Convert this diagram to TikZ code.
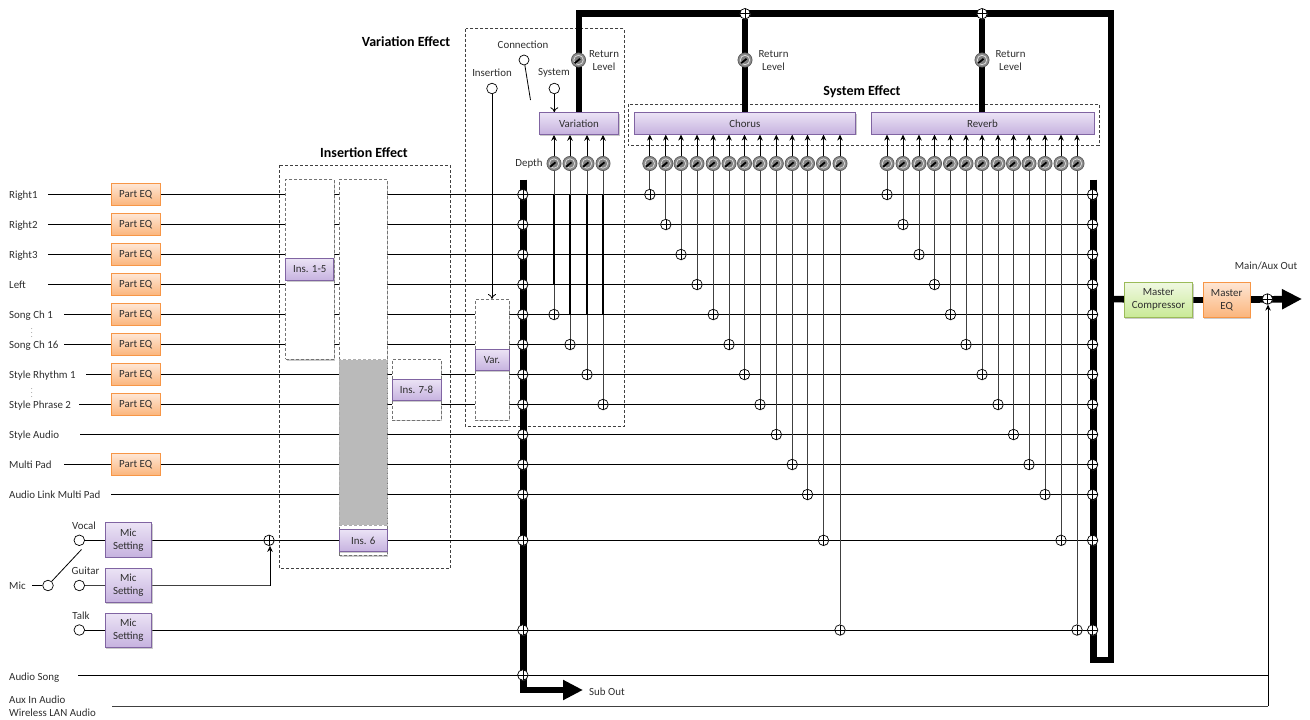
\documentclass[tikz,border=0pt]{standalone}
\usepackage{fontspec}
\setmainfont{Carlito}
\usetikzlibrary{arrows.meta,shadows,calc}
\definecolor{txt}{HTML}{2E2E2E}
\definecolor{pborder}{HTML}{8064A2}
\definecolor{ptop}{HTML}{EBE3F5}
\definecolor{pbot}{HTML}{C6B2DF}
\definecolor{oborder}{HTML}{F79646}
\definecolor{otop}{HTML}{FEE6D4}
\definecolor{obot}{HTML}{FBB57C}
\definecolor{gborder}{HTML}{9BBB59}
\definecolor{gtop}{HTML}{F0F8E2}
\definecolor{gbot}{HTML}{C9EA96}
\pgfdeclarelayer{lines}
\pgfdeclarelayer{boxes}
\pgfdeclarelayer{buses}
\pgfsetlayers{lines,boxes,buses,main}
\tikzset{
  lab/.style={font=\fontsize{10.9}{13}\selectfont,text=txt,inner sep=0pt,align=center},
  lableft/.style={lab,anchor=west,yshift=-.7pt},
  title/.style={font=\fontsize{14}{16}\selectfont\bfseries,text=black,inner sep=0pt},
  softshadow/.style={drop shadow={shadow xshift=1pt,shadow yshift=-1.2pt,fill=black!45,opacity=.45}},
  basebox/.style={lab,rectangle,inner sep=0pt,line width=.9pt,softshadow},
  purplebox/.style={basebox,draw=pborder,top color=ptop,bottom color=pbot},
  orangebox/.style={basebox,draw=oborder,top color=otop,bottom color=obot},
  greenbox/.style={basebox,draw=gborder,top color=gtop,bottom color=gbot},
  parteq/.style={orangebox,minimum width=48.5pt,minimum height=21.5pt},
  micbox/.style={purplebox,minimum width=46.5pt,minimum height=34.5pt},
  frame/.style={draw=black!75,dashed,dash pattern=on 3pt off 2pt,line width=.7pt,inner sep=0pt},
  column/.style={draw=black!55,dash pattern=on 3pt off 2pt,line width=.9pt,fill=white,inner sep=0pt,softshadow},
  wire/.style={draw=black,line width=.8pt},
  vwire/.style={draw=black!75,line width=.8pt},
  stub/.style={draw=black,line width=1.4pt},
  bus/.style={draw=black,line width=6.6pt,line join=miter},
  bigarrow/.style={bus,-{Triangle[length=20pt,width=19pt]}},
  tip/.style={-{Stealth[length=6pt,width=5.5pt]}},
  opentip/.style={-{To[length=5pt,width=8pt]}},
  port/.style={circle,draw=black,fill=white,line width=.7pt,minimum size=10.6pt,inner sep=0pt},
  sumn/.style={circle,draw=black,fill=white,line width=.7pt,minimum size=10.5pt,inner sep=0pt,
    drop shadow={shadow xshift=.5pt,shadow yshift=-.8pt,fill=black!40,opacity=.35},
    path picture={
      \draw[line width=.6pt] (path picture bounding box.north)--(path picture bounding box.south);
      \draw[line width=.6pt] (path picture bounding box.west)--(path picture bounding box.east);}},
  knob/.style={circle,draw=black!65,fill=black!45,line width=.7pt,minimum size=14.2pt,inner sep=0pt,
    path picture={
      \draw[white!85!black,line width=.8pt,fill=black!50] (path picture bounding box.center) circle (4.7pt);
      \draw[black,line width=1.8pt] ($(path picture bounding box.center)+(1.5pt,1.2pt)$)--($(path picture bounding box.center)+(-3.8pt,-3.2pt)$);}},
}
\begin{document}
\begin{tikzpicture}[x=1pt,y=-1pt]
\useasboundingbox (0,0) rectangle (1310,720);

% --- source labels and row ends
\foreach \n/\y/\t/\s in {1/194.5/Right1/48,2/224.5/Right2/48,3/254.5/Right3/48,4/284.5/Left/48,
  5/314.5/Song Ch 1/64,6/344.5/Song Ch 16/64,7/374.5/Style Rhythm 1/86,8/404.5/Style Phrase 2/79,
  9/434.5/Style Audio/80,10/464.5/Multi Pad/64,11/494.5/Audio Link Multi Pad/111}{
  \node[lableft] (lab\n) at (9,\y) {\t};
  \coordinate (src\n) at (\s,\y);
  \node[sumn] (sumL\n) at (522.8,\y) {};
  \node[sumn] (sumR\n) at (1092.6,\y) {};
}
\foreach \n/\y in {1/194.5,2/224.5,3/254.5,4/284.5,5/314.5,6/344.5,7/374.5,8/404.5,10/464.5}{
  \node[parteq] (eq\n) at (135.7,\y) {Part EQ};
}
\node[lab] (dots1) at (32,330) {\fontsize{6}{6}\selectfont$\vdots$};
\node[lab] (dots2) at (32,390) {\fontsize{6}{6}\selectfont$\vdots$};

% --- microphones
\node[lableft] (labmic) at (9,585.5) {Mic};
\node[port] (micin) at (48,585.5) {};
\coordinate (micsrc) at (32,585.5);
\coordinate (swA) at (52,581);
\coordinate (swB) at (81.5,549.5);
\node[lab] (labvocal) at (84,525.5) {Vocal};
\node[lab] (labguitar) at (85.5,571) {Guitar};
\node[lab] (labtalk) at (81,616) {Talk};
\node[port] (vocal) at (79.3,540.3) {};
\node[port] (guitar) at (79.3,585.5) {};
\node[port] (talk) at (79.3,630) {};
\node[micbox] (micA) at (128.3,540) {Mic\\Setting};
\node[micbox] (micB) at (128.3,585.5) {Mic\\Setting};
\node[micbox] (micC) at (128.3,630.5) {Mic\\Setting};
\node[sumn] (mixmic) at (269,540.3) {};
\coordinate (guitarcorner) at (270,585.5);

\node[sumn] (sumL12) at (522.8,540.3) {};
\node[sumn] (sumR12) at (1092.6,540.3) {};
\node[sumn] (sumL13) at (522.8,630) {};
\node[sumn] (sumR13) at (1092.6,630) {};
\node[lableft] (labaudio) at (9,677) {Audio Song};
\coordinate (audiosrc) at (78,675);
\node[sumn] (sumL14) at (522.8,675) {};
\node[lableft] (labaux) at (9,699.5) {Aux In Audio};
\node[lableft] (labwlan) at (9,712.5) {Wireless LAN Audio};
\coordinate (auxsrc) at (112,706);
\coordinate (auxcorner) at (1268,706);
\coordinate (audioend) at (1268,675);

% --- effect blocks
\node[title] (titleins) at (364,152.5) {Insertion Effect};
\node[title] (titlevar) at (406,42) {Variation Effect};
\node[title] (titlesys) at (862,91.5) {System Effect};
\node[purplebox,minimum width=48pt,minimum height=22pt] (ins15) at (309.8,269.5) {Ins. 1-5};
\node[purplebox,minimum width=48pt,minimum height=22pt] (ins6) at (363.2,540.5) {Ins. 6};
\node[purplebox,minimum width=49pt,minimum height=21.5pt] (ins78) at (416.5,390) {Ins. 7-8};
\node[purplebox,minimum width=34pt,minimum height=21.5pt] (varshort) at (492,360) {Var.};
\node[purplebox,minimum width=79.4pt,minimum height=21.6pt] (variation) at (579,123.5) {Variation};
\node[purplebox,minimum width=221.7pt,minimum height=21.4pt] (chorus) at (744.85,123.4) {Chorus};
\node[purplebox,minimum width=223pt,minimum height=21.4pt] (reverb) at (982.5,123.4) {Reverb};

% --- variation controls
\node[lab] (labconn) at (523,45) {Connection};
\node[lab] (labinsert) at (492,72.5) {Insertion};
\node[lab] (labsystem) at (554,72.5) {System};
\node[port,minimum size=10pt] (conn) at (524,60) {};
\node[port] (insert) at (492,88.5) {};
\node[port] (system) at (554.3,88.5) {};
\coordinate (connend) at (530.5,100);
\node[lab] (labdepth) at (529,163.5) {Depth};

% --- knobs and mixers
\foreach \i/\x/\y in {1/554/314.5,2/570/344.5,3/587/374.5,4/603/404.5}{
  \node[knob] (kV\i) at (\x,163.5) {};
  \node[sumn] (sV\i) at (\x,\y) {};
}
\foreach \i/\x/\y in {1/649.8/194.5,2/665.8/224.5,3/681/254.5,4/697/284.5,5/713.2/314.5,6/729/344.5,
  7/744.5/374.5,8/760/404.5,9/776.3/434.5,10/792.2/464.5,11/807.5/494.5,12/823.5/540.3,13/840/630}{
  \node[knob] (kC\i) at (\x,163.5) {};
  \node[sumn] (sC\i) at (\x,\y) {};
}
\foreach \i/\x/\y in {1/887/194.5,2/903/224.5,3/919/254.5,4/934.5/284.5,5/950.5/314.5,6/966/344.5,
  7/982/374.5,8/998/404.5,9/1013.5/434.5,10/1029/464.5,11/1045/494.5,12/1061/540.3,13/1077/630}{
  \node[knob] (kR\i) at (\x,163.5) {};
  \node[sumn] (sR\i) at (\x,\y) {};
}

% --- return path
\node[knob] (retV) at (578.5,60) {};
\node[knob] (retC) at (745,60) {};
\node[knob] (retR) at (982,60) {};
\node[sumn] (retCsum) at (745,13.7) {};
\node[sumn] (retRsum) at (982,13.7) {};
\node[lab] (labretV) at (604,60.5) {Return\\Level};
\node[lab] (labretC) at (773.5,60.5) {Return\\Level};
\node[lab] (labretR) at (1010.5,60.5) {Return\\Level};
\coordinate (busRtop) at (1093.2,179.5);
\coordinate (busRbot) at (1093.2,660);
\coordinate (busRout) at (1111,660);
\coordinate (busRtopR) at (1111,13.7);
\coordinate (busRtopL) at (579,13.7);

% --- output
\node[greenbox,minimum width=68.5pt,minimum height=35pt] (comp) at (1158.5,299.8) {Master\\Compressor};
\node[orangebox,minimum width=46.7pt,minimum height=35pt] (meq) at (1226.7,299.8) {Master\\EQ};
\node[sumn] (mainsum) at (1267.4,299) {};
\node[lab] (labmain) at (1266,266) {Main/Aux Out};
\coordinate (mainend) at (1302,299);
\coordinate (mainbus) at (1111,299);
\coordinate (busLtop) at (523.4,179.5);
\coordinate (busLcorner) at (523.4,690);
\coordinate (subend) at (583,690);
\node[lableft] (labsub) at (589,691) {Sub Out};

\begin{pgfonlayer}{lines}
  % dashed frames
  \draw[frame] (279.5,165) rectangle (450,568.5);
  \draw[frame] (465.7,28.7) rectangle (624,426.7);
  \draw[frame] (628,104) rectangle (1099,145.7);
  % input rows
  \foreach \n in {1,...,11}{ \draw[wire] (src\n) -- (sumR\n); }
  \draw[wire] (vocal) -- (sumR12);
  \draw[wire] (talk) -- (sumR13);
  \draw[wire] (audiosrc) -- (audioend);
  \draw[wire] (micsrc) -- (micin);
  \draw[wire] (swA) -- (swB);
  \draw[vwire] (guitar) -- (guitarcorner);
  \draw[wire,tip] (guitarcorner) -- (guitarcorner |- mixmic.south);
  \draw[vwire] (auxsrc) -- (auxcorner);
  \draw[wire,tip] (auxcorner) -- (auxcorner |- mainsum.south);
  % variation controls
  \draw[wire] (conn) -- (connend);
  \draw[wire,opentip] (insert) -- (492,299);
  \draw[wire,opentip] (system) -- (system |- variation.north);
  % knob lines
  \foreach \i in {1,...,4}{
    \draw[vwire] (sV\i) -- (kV\i);
    \draw[wire,tip] (kV\i) -- (kV\i |- variation.south);
  }
  \foreach \i in {1,...,13}{
    \draw[vwire] (sC\i) -- (kC\i);
    \draw[wire,tip] (kC\i) -- (kC\i |- chorus.south);
    \draw[vwire] (sR\i) -- (kR\i);
    \draw[wire,tip] (kR\i) -- (kR\i |- reverb.south);
  }
  % heavier wire pieces
  \draw[stub] (554,194.5) -- (554,285);
  \draw[stub] (570,194.5) -- (570,314.5);
  \draw[stub] (587,194.5) -- (587,314.5);
  \draw[stub] (603,194.5) -- (603,314.5);
  \draw[stub] (587,314.5) -- (628,314.5);
\end{pgfonlayer}

\begin{pgfonlayer}{boxes}
  \node[column,minimum width=48.3pt,minimum height=180pt] (colA) at (309.8,269.4) {};
  \node[column,minimum width=48.3pt,minimum height=376pt] (colB) at (363.2,367.3) {};
  \node[draw=black!32,dash pattern=on 3pt off 2pt,line width=.9pt,fill=black!27,minimum width=48.3pt,minimum height=165.5pt,inner sep=0pt] (colgray) at (363.2,442.3) {};
  \node[column,minimum width=49pt,minimum height=60.7pt] (colC) at (416.5,389.7) {};
  \node[column,minimum width=34pt,minimum height=120.7pt] (colD) at (492,359.7) {};
  % short heavy pieces between blocks
  \draw[stub] (334.5,194.5) -- (338.5,194.5);
  \draw[stub] (334.5,224.5) -- (338.5,224.5);
  \draw[stub] (334.5,314.5) -- (338.5,314.5);
  \draw[stub] (388,374.5) -- (392,374.5);
  \draw[stub] (388,404.5) -- (392,404.5);
  \draw[stub] (441.5,404.5) -- (445.5,404.5);
  \draw[stub] (471,374.5) -- (475,374.5);
  \draw[stub] (509.5,374.5) -- (513,374.5);
\end{pgfonlayer}

\begin{pgfonlayer}{buses}
  \draw[bus] (busRtop) -- (busRbot) -- (busRout) -- (busRtopR) -- (busRtopL) -- (variation.north -| busRtopL);
  \draw[bus] (retC) -- (retC |- chorus.north);
  \draw[bus] (retCsum) -- (retC);
  \draw[bus] (retRsum) -- (retR);
  \draw[bus] (retR) -- (retR |- reverb.north);
  \draw[bus] (mainbus) -- (comp);
  \draw[bus] (comp) -- (meq);
  \draw[bigarrow] (meq) -- (mainend);
  \draw[bus] (busLtop) -- (busLcorner) -- +(3,0);
  \draw[bigarrow] (busLcorner) -- (subend);
\end{pgfonlayer}
\end{tikzpicture}
\end{document}
